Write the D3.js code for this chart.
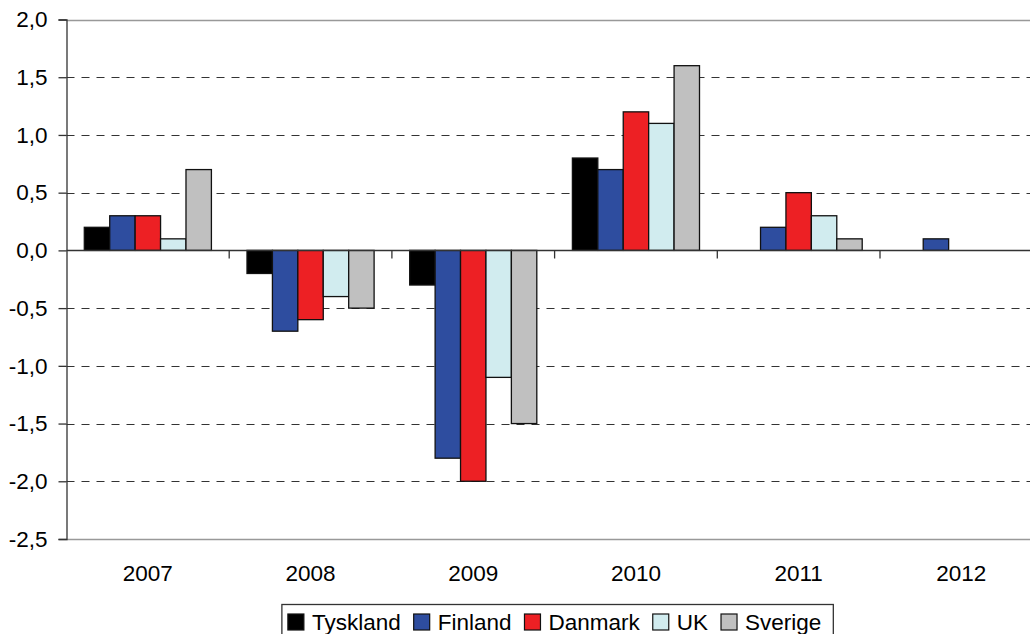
<!DOCTYPE html>
<html>
<head>
<meta charset="utf-8">
<script src="https://cdn.jsdelivr.net/npm/d3@7"></script>
<style>
  html, body { margin: 0; padding: 0; background: #fff; overflow: hidden; }
  svg { display: block; font-family: "Liberation Sans", Arial, sans-serif; }
</style>
</head>
<body>
<div id="chart"></div>
<script>
// Chart data
const years = ['2007', '2008', '2009', '2010', '2011', '2012'];
const series = ['Tyskland', 'Finland', 'Danmark', 'UK', 'Sverige'];
const colors = ['#000000', '#2e4d9f', '#ed2024', '#d1ecef', '#c0c0c0'];
const tyskland = [0.2, -0.2, -0.3, 0.8, null, null];
const finland  = [0.3, -0.7, -1.8, 0.7, 0.2, 0.1];
const danmark  = [0.3, -0.6, -2.0, 1.2, 0.5, null];
const uk       = [0.1, -0.4, -1.1, 1.1, 0.3, null];
const sverige  = [0.7, -0.5, -1.5, 1.6, 0.1, null];
const yTicks = [2.0, 1.5, 1.0, 0.5, 0.0, -0.5, -1.0, -1.5, -2.0, -2.5];

const values = [tyskland, finland, danmark, uk, sverige];

const W = 1030, H = 634;
const plotL = 66.5, plotT = 19.5, plotB = 539;
const catW = 162.7;
const plotR = plotL + catW * years.length; // plot runs past the window edge
const fontSize = 22.5;

const svg = d3.select('#chart').append('svg')
  .attr('width', W)
  .attr('height', H);

const x0 = d3.scaleBand().domain(years).range([plotL, plotR]).padding(0);
const x1 = d3.scaleBand().domain(series).range([0, x0.bandwidth()])
  .paddingInner(0).paddingOuter(0.7);
const y = d3.scaleLinear().domain([-2.5, 2]).range([plotB, plotT]);

const fmt = v => d3.format('.1f')(v).replace('.', ',').replace('−', '-');

// Dashed gridlines
svg.append('g').selectAll('line')
  .data(yTicks.filter(v => v !== 0 && v !== 2 && v !== -2.5))
  .join('line')
  .attr('x1', plotL).attr('x2', plotR)
  .attr('y1', d => Math.round(y(d)) + 0.5).attr('y2', d => Math.round(y(d)) + 0.5)
  .attr('stroke', '#333')
  .attr('stroke-width', 1.2)
  .attr('stroke-dasharray', '8,7');

// Plot border top and bottom
svg.append('g').selectAll('line')
  .data([2, -2.5])
  .join('line')
  .attr('x1', plotL).attr('x2', plotR)
  .attr('y1', d => Math.round(y(d)) + 0.5).attr('y2', d => Math.round(y(d)) + 0.5)
  .attr('stroke', '#999')
  .attr('stroke-width', 1.5);

// Bars
const rows = [];
years.forEach((yr, i) => {
  series.forEach((s, j) => {
    const v = values[j][i];
    if (v !== null && v !== undefined) rows.push({ yr, s, v, c: colors[j] });
  });
});

svg.append('g').selectAll('rect')
  .data(rows)
  .join('rect')
  .attr('x', d => x0(d.yr) + x1(d.s))
  .attr('width', x1.bandwidth())
  .attr('y', d => y(Math.max(0, d.v)))
  .attr('height', d => Math.abs(y(d.v) - y(0)))
  .attr('fill', d => d.c)
  .attr('stroke', '#111')
  .attr('stroke-width', 1.3);

// Zero axis line with category ticks
const zeroY = Math.round(y(0)) + 0.5;
svg.append('line')
  .attr('x1', plotL).attr('x2', plotR)
  .attr('y1', zeroY).attr('y2', zeroY)
  .attr('stroke', '#333')
  .attr('stroke-width', 1.3);

svg.append('g').selectAll('line')
  .data(years.slice(1))
  .join('line')
  .attr('x1', d => x0(d)).attr('x2', d => x0(d))
  .attr('y1', zeroY).attr('y2', zeroY + 8)
  .attr('stroke', '#333')
  .attr('stroke-width', 1.3);

// Year labels
svg.append('g').selectAll('text')
  .data(years)
  .join('text')
  .attr('x', d => x0(d) + x0.bandwidth() / 2)
  .attr('y', 581)
  .attr('text-anchor', 'middle')
  .attr('font-size', fontSize)
  .attr('fill', '#000')
  .text(d => d);

// Y axis
const yAxis = d3.axisLeft(y).tickValues(yTicks).tickSize(8).tickPadding(11).tickFormat(fmt);
const ga = svg.append('g')
  .attr('transform', `translate(${plotL},0)`)
  .call(yAxis);
ga.select('.domain').attr('stroke', '#333').attr('stroke-width', 1.3);
ga.selectAll('.tick line').attr('stroke', '#333').attr('stroke-width', 1.3);
ga.selectAll('.tick text')
  .attr('font-size', fontSize)
  .attr('font-family', '"Liberation Sans", Arial, sans-serif')
  .attr('fill', '#000');

// Legend
const lg = svg.append('g');
const box = lg.append('rect')
  .attr('y', 604.5)
  .attr('height', 40)
  .attr('fill', '#fff')
  .attr('stroke', '#333')
  .attr('stroke-width', 1.3);

let cx = 0;
const items = [];
series.forEach((s, j) => {
  const it = lg.append('g');
  it.append('rect')
    .attr('x', 0).attr('y', 614)
    .attr('width', 16).attr('height', 16)
    .attr('fill', colors[j])
    .attr('stroke', '#111')
    .attr('stroke-width', 1.2);
  const t = it.append('text')
    .attr('x', 24).attr('y', 630)
    .attr('font-size', fontSize)
    .attr('fill', '#000')
    .text(s);
  const w = 24 + t.node().getComputedTextLength();
  items.push({ it, off: cx });
  cx += w + 13;
});
const total = cx - 13;
const start = (plotL + plotR) / 2 - total / 2;
items.forEach(d => d.it.attr('transform', `translate(${start + d.off},0)`));
box.attr('x', start - 6).attr('width', total + 18);
</script>
</body>
</html>
